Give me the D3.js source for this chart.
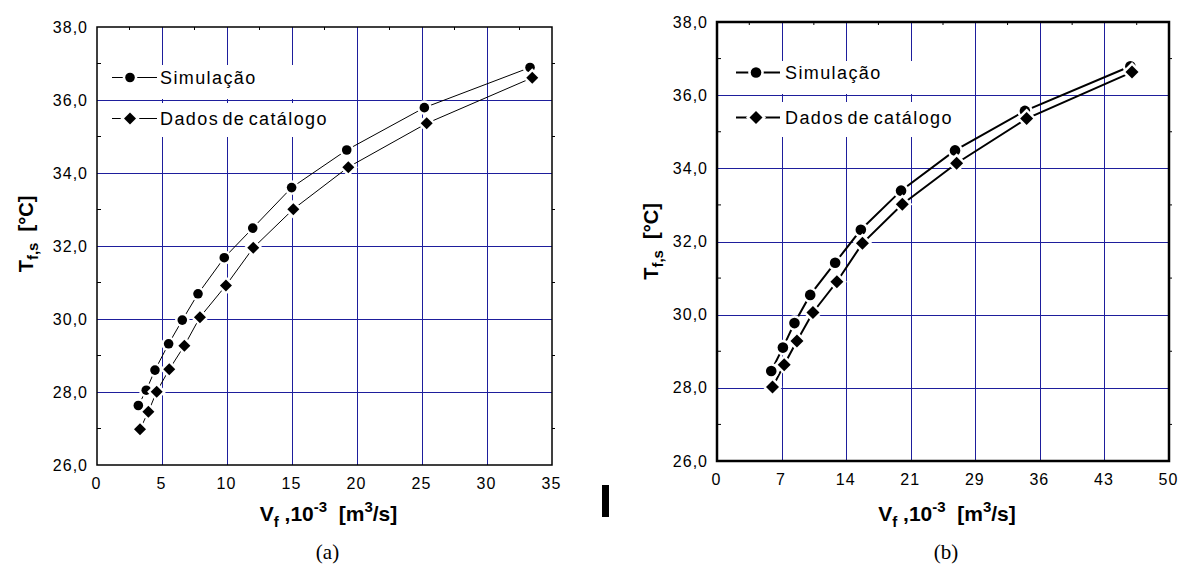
<!DOCTYPE html>
<html>
<head>
<meta charset="utf-8">
<script src="https://cdn.jsdelivr.net/npm/d3@7"></script>
<style>
  body { margin: 0; background: #fff; }
  svg { display: block; font-family: Arial, 'Liberation Sans', sans-serif; }
  text { white-space: pre; }
</style>
</head>
<body>
<script>
// values
const yTicks = [26, 28, 30, 32, 34, 36, 38]
const yMinor = [27, 29, 31, 33, 35, 37]

// panel (a)
const xTicksA = [0, 5, 10, 15, 20, 25, 30, 35]
const simA_x = [3.18, 3.79, 4.46, 5.51, 6.56, 7.77, 9.79, 11.98, 14.97, 19.21, 25.18, 33.31]
const simA_y = [27.63, 28.05, 28.60, 29.32, 29.97, 30.69, 31.68, 32.49, 33.60, 34.63, 35.79, 36.89]
const catA_x = [3.31, 3.95, 4.59, 5.56, 6.72, 7.92, 9.92, 12.02, 15.10, 19.33, 25.36, 33.48]
const catA_y = [26.98, 27.46, 28.01, 28.62, 29.27, 30.05, 30.92, 31.95, 33.01, 34.16, 35.36, 36.61]

// panel (b)
const xTickLabelsB = ['0', '7', '14', '21', '29', '36', '43', '50']
const simB_x = [6.00, 7.29, 8.57, 10.31, 13.07, 15.91, 20.36, 26.33, 34.06, 45.73]
const simB_y = [28.46, 29.10, 29.77, 30.54, 31.42, 32.32, 33.39, 34.49, 35.57, 36.79]
const catB_x = [6.14, 7.43, 8.84, 10.61, 13.26, 16.09, 20.50, 26.51, 34.25, 45.91]
const catB_y = [28.02, 28.63, 29.28, 30.06, 30.90, 31.95, 33.02, 34.14, 35.36, 36.63]

const legendNames = ['Simulação', 'Dados de catálogo']

const gridColor = '#1e1e9c'
const comma = d3.formatLocale({ decimal: ',', thousands: '.', grouping: [3], currency: ['', ''] })

const svg = d3.select('body').append('svg')
  .attr('width', 1178)
  .attr('height', 565)

function zip(xs, ys) {
  return xs.map((x, i) => ({ x: x, y: ys[i] }))
}

function diamond(s) {
  return `M0,${-s}L${s},0L0,${s}L${-s},0Z`
}

function drawPanel(c) {
  const x = d3.scaleLinear().domain(c.xDomain).range([c.left, c.right])
  const y = d3.scaleLinear().domain([26, 38]).range([c.bottom, c.top])
  const g = svg.append('g')

  // grid
  g.selectAll('.vgrid')
    .data(c.xTickVals.slice(1, -1))
    .enter().append('line')
    .attr('x1', d => Math.round(x(d)) + 0.5).attr('x2', d => Math.round(x(d)) + 0.5)
    .attr('y1', c.top).attr('y2', c.bottom)
    .attr('stroke', gridColor).attr('stroke-width', 1)

  g.selectAll('.hgrid')
    .data(yTicks.slice(1, -1))
    .enter().append('line')
    .attr('x1', c.left).attr('x2', c.right)
    .attr('y1', d => Math.round(y(d)) + 0.5).attr('y2', d => Math.round(y(d)) + 0.5)
    .attr('stroke', gridColor).attr('stroke-width', 1)

  // legend boxes hide the grid
  const lg = g.append('g')
  c.legendY.forEach((ly, i) => {
    lg.append('rect')
      .attr('x', c.left + 6).attr('y', c.legendBox[i][0])
      .attr('width', c.legendW).attr('height', c.legendBox[i][1] - c.legendBox[i][0])
      .attr('fill', '#fff')
  })

  // frame
  g.append('rect')
    .attr('x', c.left).attr('y', c.top)
    .attr('width', c.right - c.left).attr('height', c.bottom - c.top)
    .attr('fill', 'none').attr('stroke', '#000').attr('stroke-width', c.frameW)

  // minor ticks
  g.selectAll('.lminor').data(yMinor).enter().append('line')
    .attr('x1', c.left).attr('x2', c.left + 4)
    .attr('y1', d => y(d)).attr('y2', d => y(d))
    .attr('stroke', '#000').attr('stroke-width', 1)
  g.selectAll('.rminor').data(yMinor).enter().append('line')
    .attr('x1', c.right).attr('x2', c.right + 3)
    .attr('y1', d => y(d)).attr('y2', d => y(d))
    .attr('stroke', '#000').attr('stroke-width', 1)
  const mids = c.xTickVals.slice(1).map((d, i) => (d + c.xTickVals[i]) / 2)
  g.selectAll('.tminor').data(mids).enter().append('line')
    .attr('x1', d => x(d)).attr('x2', d => x(d))
    .attr('y1', c.top).attr('y2', c.top + 3)
    .attr('stroke', '#000').attr('stroke-width', 1)

  // axes labels
  const xAxis = d3.axisBottom(x)
    .tickValues(c.xTickVals)
    .tickFormat((d, i) => c.xLabels[i])
    .tickSize(0).tickPadding(13)
  const gx = g.append('g')
    .attr('transform', `translate(0, ${c.bottom})`)
    .call(xAxis)
  gx.select('.domain').remove()
  gx.selectAll('text')
    .attr('font-size', 16).attr('font-family', 'Arial, Liberation Sans, sans-serif')
    .attr('fill', '#000').attr('letter-spacing', 1).attr('dx', -1)

  const yAxis = d3.axisLeft(y)
    .tickValues(yTicks)
    .tickFormat(comma.format('.1f'))
    .tickSize(0).tickPadding(9)
  const gy = g.append('g')
    .attr('transform', `translate(${c.left}, 0)`)
    .call(yAxis)
  gy.select('.domain').remove()
  gy.selectAll('text')
    .attr('font-size', 16).attr('font-family', 'Arial, Liberation Sans, sans-serif')
    .attr('fill', '#000').attr('letter-spacing', 1)

  // series
  const line = d3.line().x(d => x(d.x)).y(d => y(d.y))
  const series = [
    { pts: zip(c.sim[0], c.sim[1]), shape: 'circle' },
    { pts: zip(c.cat[0], c.cat[1]), shape: 'diamond' }
  ]
  series.forEach(s => {
    g.append('path')
      .datum(s.pts)
      .attr('d', line)
      .attr('fill', 'none')
      .attr('stroke', '#000')
      .attr('stroke-width', c.lineW)
  })
  series.forEach(s => {
    const m = g.selectAll(null).data(s.pts).enter()
    if (s.shape === 'circle') {
      m.append('circle')
        .attr('cx', d => x(d.x)).attr('cy', d => y(d.y))
        .attr('r', c.r)
        .attr('fill', '#000').attr('stroke', '#fff').attr('stroke-width', c.halo)
        .attr('paint-order', 'stroke')
    } else {
      m.append('path')
        .attr('d', diamond(c.dia))
        .attr('transform', d => `translate(${x(d.x)}, ${y(d.y)})`)
        .attr('fill', '#000').attr('stroke', '#fff').attr('stroke-width', c.halo)
        .attr('paint-order', 'stroke')
    }
  })

  // legend entries
  legendNames.forEach((name, i) => {
    const ly = c.legendY[i]
    const my = ly - 6.5
    lg.append('line')
      .attr('x1', c.left + c.legLine[0]).attr('x2', c.left + c.legLine[1])
      .attr('y1', my).attr('y2', my)
      .attr('stroke', '#000').attr('stroke-width', c.lineW)
    if (i === 0) {
      lg.append('circle')
        .attr('cx', c.left + c.legMark).attr('cy', my).attr('r', c.r)
        .attr('fill', '#000').attr('stroke', '#fff').attr('stroke-width', c.halo)
        .attr('paint-order', 'stroke')
    } else {
      lg.append('path')
        .attr('d', diamond(c.dia))
        .attr('transform', `translate(${c.left + c.legMark}, ${my})`)
        .attr('fill', '#000').attr('stroke', '#fff').attr('stroke-width', c.halo)
        .attr('paint-order', 'stroke')
    }
    lg.append('text')
      .attr('x', c.left + c.legText).attr('y', ly)
      .attr('font-size', 18).attr('letter-spacing', 1.4).attr('word-spacing', -3)
      .text(name)
  })

  // y title
  const yt = g.append('text')
    .attr('transform', `translate(${c.yTitleX}, ${(c.top + c.bottom) / 2 + c.yTitleDy}) rotate(-90)`)
    .attr('text-anchor', 'middle')
    .attr('font-weight', 'bold').attr('font-size', 20)
  yt.append('tspan').text('T')
  yt.append('tspan').attr('font-size', 15).attr('dy', 5).text('f,s')
  yt.append('tspan').attr('dy', -5).text('  [°C]')

  // x title
  const xt = g.append('text')
    .attr('x', (c.left + c.right) / 2 + 4).attr('y', 521)
    .attr('text-anchor', 'middle')
    .attr('font-weight', 'bold').attr('font-size', 21)
  xt.append('tspan').text('V')
  xt.append('tspan').attr('font-size', 15).attr('dy', 6).text('f')
  xt.append('tspan').attr('dy', -6).text(' ,10')
  xt.append('tspan').attr('font-size', 15).attr('dy', -9).text('-3')
  xt.append('tspan').attr('dy', 9).text('  [m')
  xt.append('tspan').attr('font-size', 15).attr('dy', -9).text('3')
  xt.append('tspan').attr('dy', 9).text('/s]')

  // caption
  svg.append('text')
    .attr('x', (c.left + c.right) / 2 + 3).attr('y', 559)
    .attr('text-anchor', 'middle')
    .attr('font-family', "'Times New Roman', 'Liberation Serif', serif")
    .attr('font-size', 21)
    .text(c.caption)
}

drawPanel({
  left: 97, right: 552, top: 27, bottom: 465,
  xDomain: [0, 35],
  xTickVals: xTicksA,
  xLabels: xTicksA.map(String),
  sim: [simA_x, simA_y], cat: [catA_x, catA_y],
  frameW: 1.5, lineW: 1, r: 4.8, dia: 6, halo: 5,
  legendY: [84, 125], legendBox: [[65, 99], [103, 137]], legendW: 238,
  legLine: [15, 60], legMark: 33, legText: 63,
  yTitleX: 33, yTitleDy: -12,
  caption: '(a)'
})

drawPanel({
  left: 717, right: 1169, top: 22, bottom: 461,
  xDomain: [0, 50],
  xTickVals: xTickLabelsB.map((d, i) => i * 50 / 7),
  xLabels: xTickLabelsB,
  sim: [simB_x, simB_y], cat: [catB_x, catB_y],
  frameW: 2.5, lineW: 2, r: 5.3, dia: 6.5, halo: 5,
  legendY: [79, 124], legendBox: [[61, 94], [102, 137]], legendW: 242,
  legLine: [19, 63], legMark: 39, legText: 68,
  yTitleX: 658, yTitleDy: 0,
  caption: '(b)'
})

// stray black bar between the panels
svg.append('rect')
  .attr('x', 602).attr('y', 485)
  .attr('width', 7).attr('height', 32)
  .attr('fill', '#000')
</script>
</body>
</html>
